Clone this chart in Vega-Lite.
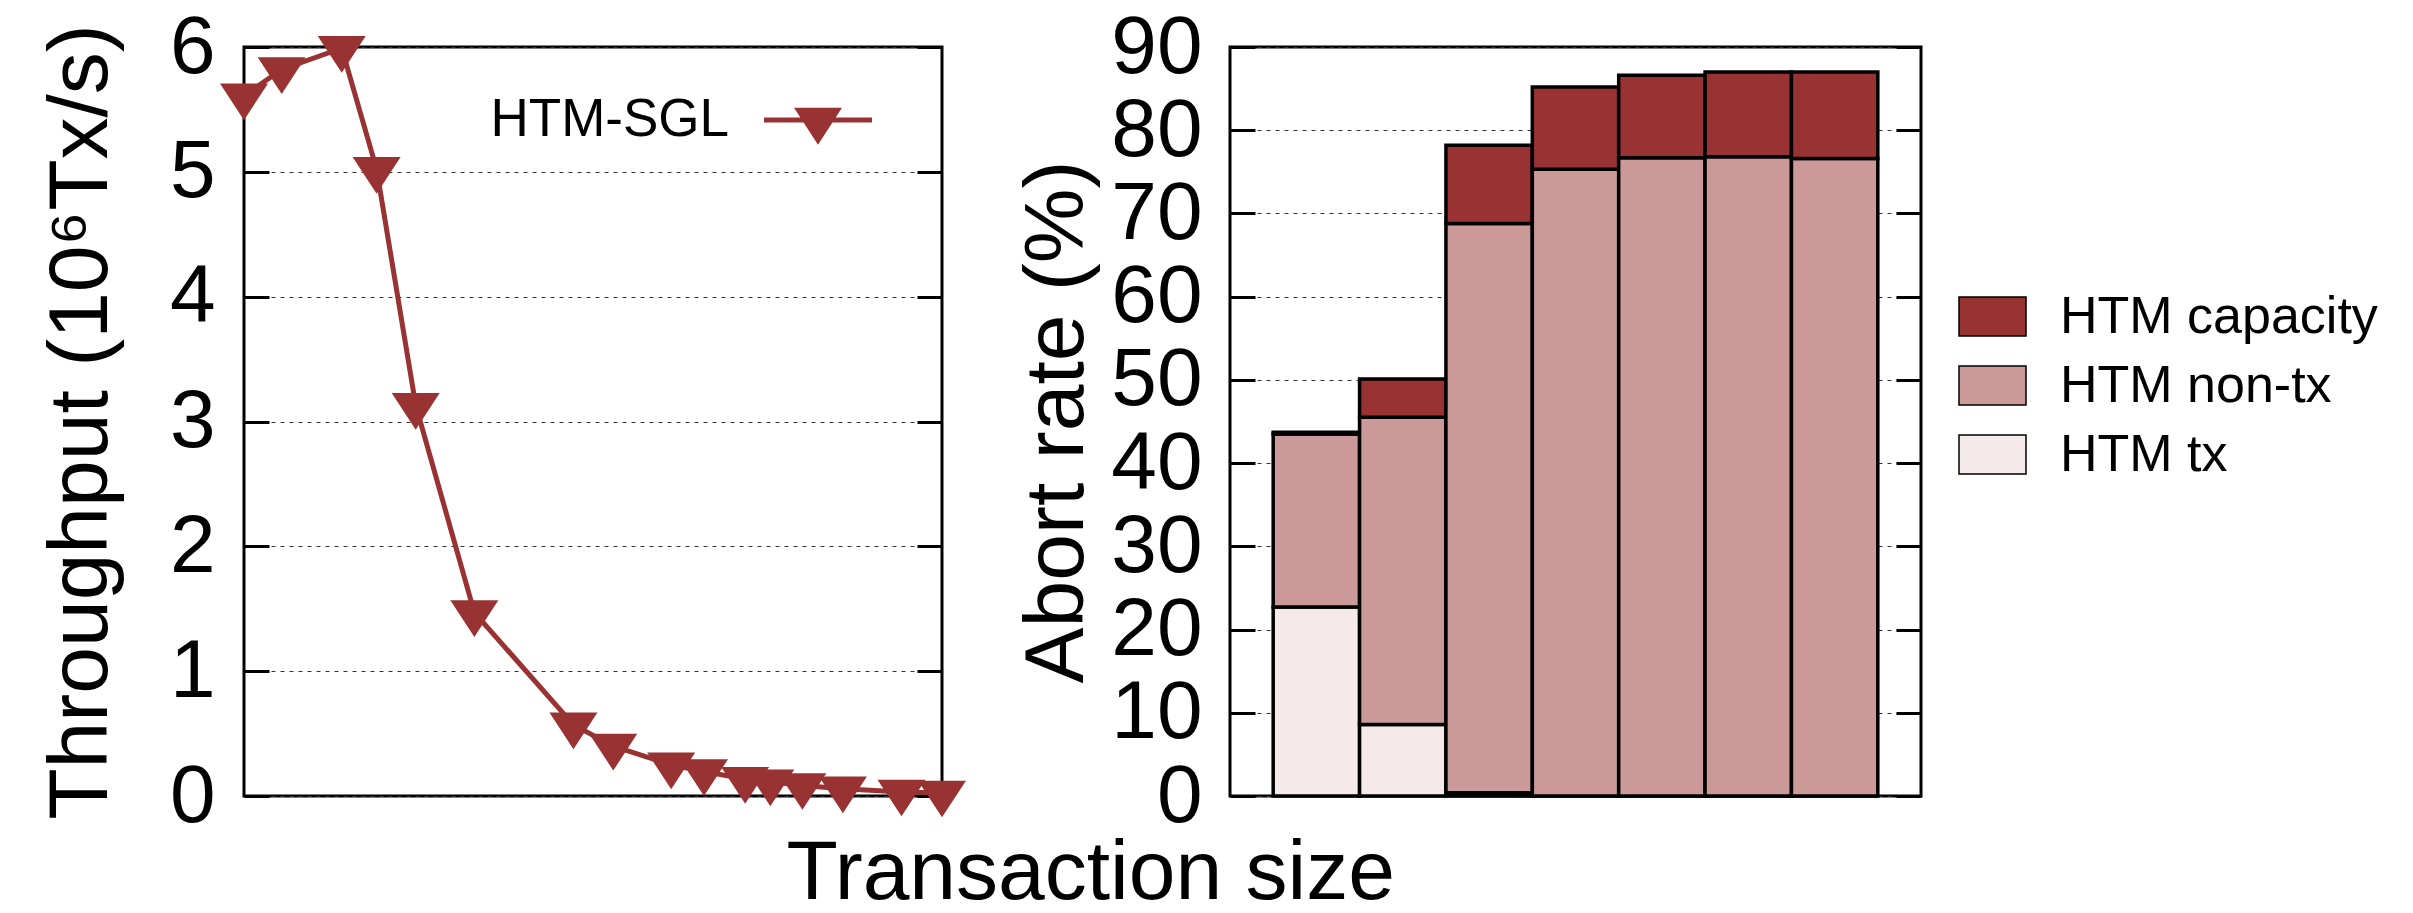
{
  "$schema": "https://vega.github.io/schema/vega-lite/v6.json",
  "background": "white",
  "padding": {"left": 37, "top": 4, "right": 5, "bottom": 5},
  "config": {
    "font": "Liberation Sans",
    "view": {"stroke": "black", "strokeWidth": 3},
    "axis": {"labelFont": "Liberation Sans", "titleFont": "Liberation Sans", "labelColor": "black", "titleColor": "black", "titleFontWeight": "normal"},
    "legend": {"labelFont": "Liberation Sans", "labelColor": "black", "padding": 0, "labelLimit": 500},
    "concat": {"spacing": 46}
  },
  "resolve": {"scale": {"color": "independent"}, "legend": {"color": "independent"}},
  "title": {"text": "Transaction size", "orient": "bottom", "anchor": "middle", "fontSize": 84, "fontWeight": "normal", "font": "Liberation Sans", "color": "black", "dx": -118, "offset": -6},
  "hconcat": [
    {
      "width": 698,
      "height": 749,
      "data": {"values": [
        {"pos": 0, "throughput": 5.61, "series": "HTM-SGL"},
        {"pos": 5.4, "throughput": 5.82, "series": "HTM-SGL"},
        {"pos": 14.0, "throughput": 5.99, "series": "HTM-SGL"},
        {"pos": 19.0, "throughput": 5.02, "series": "HTM-SGL"},
        {"pos": 24.6, "throughput": 3.13, "series": "HTM-SGL"},
        {"pos": 33.0, "throughput": 1.47, "series": "HTM-SGL"},
        {"pos": 47.2, "throughput": 0.57, "series": "HTM-SGL"},
        {"pos": 52.9, "throughput": 0.40, "series": "HTM-SGL"},
        {"pos": 61.2, "throughput": 0.25, "series": "HTM-SGL"},
        {"pos": 65.9, "throughput": 0.196, "series": "HTM-SGL"},
        {"pos": 71.8, "throughput": 0.135, "series": "HTM-SGL"},
        {"pos": 75.4, "throughput": 0.114, "series": "HTM-SGL"},
        {"pos": 80.0, "throughput": 0.085, "series": "HTM-SGL"},
        {"pos": 85.8, "throughput": 0.058, "series": "HTM-SGL"},
        {"pos": 94.2, "throughput": 0.033, "series": "HTM-SGL"},
        {"pos": 100, "throughput": 0.025, "series": "HTM-SGL"}
      ]},
      "layer": [
        {
          "mark": {"type": "line", "strokeWidth": 5},
          "encoding": {
            "x": {"field": "pos", "type": "quantitative", "scale": {"domain": [0, 100], "nice": false, "zero": false}, "axis": null},
            "y": {"field": "throughput", "type": "quantitative", "scale": {"domain": [0, 6], "nice": false},
              "axis": {"orient": "left", "title": "Throughput (10⁶Tx/s)", "values": [0, 1, 2, 3, 4, 5, 6], "labelFontSize": 82, "titleFontSize": 84, "domain": false, "ticks": true, "tickSize": -25, "tickWidth": 3, "tickColor": "black", "labelPadding": 54, "grid": true, "gridDash": [4, 5], "gridColor": "#333333", "gridWidth": 1, "titlePadding": 45}},
            "color": {"field": "series", "type": "nominal", "scale": {"domain": ["HTM-SGL"], "range": ["#993333"]},
              "legend": {"orient": "none", "legendX": 520, "legendY": 19, "title": null, "symbolType": "M -1 -0.046 L 1 -0.046 L 1 0.046 L -1 0.046 Z M -0.444 -0.228 L 0.444 -0.228 L 0 0.457 Z", "symbolSize": 11664, "labelFontSize": 53, "labelAlign": "right", "labelOffset": -143, "labelLimit": 500,
                "encode": {"symbols": {"update": {"fill": {"value": "#993333"}, "stroke": {"value": "transparent"}, "strokeWidth": {"value": 0}, "opacity": {"value": 1}}}}}}
          }
        },
        {
          "mark": {"type": "point", "shape": "M -1 -0.51 L 1 -0.51 L 0 1.02 Z", "filled": true, "size": 2304, "color": "#993333", "opacity": 1},
          "encoding": {
            "x": {"field": "pos", "type": "quantitative", "scale": {"domain": [0, 100], "nice": false, "zero": false}, "axis": null},
            "y": {"field": "throughput", "type": "quantitative", "scale": {"domain": [0, 6], "nice": false},
              "axis": {"orient": "right", "title": null, "labels": false, "values": [0, 1, 2, 3, 4, 5, 6], "domain": false, "tickSize": -25, "tickWidth": 3, "tickColor": "black", "grid": false}}
          }
        }
      ],
      "resolve": {"axis": {"y": "independent"}}
    },
    {
      "width": 691,
      "height": 749,
      "data": {"values": [
        {"bar": 1, "type": "HTM tx", "rank": 1, "value": 22.7},
        {"bar": 1, "type": "HTM non-tx", "rank": 2, "value": 20.8},
        {"bar": 1, "type": "HTM capacity", "rank": 3, "value": 0.2},
        {"bar": 2, "type": "HTM tx", "rank": 1, "value": 8.6},
        {"bar": 2, "type": "HTM non-tx", "rank": 2, "value": 36.9},
        {"bar": 2, "type": "HTM capacity", "rank": 3, "value": 4.6},
        {"bar": 3, "type": "HTM tx", "rank": 1, "value": 0.4},
        {"bar": 3, "type": "HTM non-tx", "rank": 2, "value": 68.4},
        {"bar": 3, "type": "HTM capacity", "rank": 3, "value": 9.4},
        {"bar": 4, "type": "HTM tx", "rank": 1, "value": 0},
        {"bar": 4, "type": "HTM non-tx", "rank": 2, "value": 75.3},
        {"bar": 4, "type": "HTM capacity", "rank": 3, "value": 9.9},
        {"bar": 5, "type": "HTM tx", "rank": 1, "value": 0},
        {"bar": 5, "type": "HTM non-tx", "rank": 2, "value": 76.7},
        {"bar": 5, "type": "HTM capacity", "rank": 3, "value": 9.9},
        {"bar": 6, "type": "HTM tx", "rank": 1, "value": 0},
        {"bar": 6, "type": "HTM non-tx", "rank": 2, "value": 76.8},
        {"bar": 6, "type": "HTM capacity", "rank": 3, "value": 10.2},
        {"bar": 7, "type": "HTM tx", "rank": 1, "value": 0},
        {"bar": 7, "type": "HTM non-tx", "rank": 2, "value": 76.6},
        {"bar": 7, "type": "HTM capacity", "rank": 3, "value": 10.4}
      ]},
      "layer": [
        {
          "mark": {"type": "bar", "stroke": "black", "strokeWidth": 3.5, "opacity": 1},
          "encoding": {
            "x": {"field": "bar", "type": "ordinal", "scale": {"paddingInner": 0, "paddingOuter": 0.5}, "axis": null},
            "y": {"field": "value", "type": "quantitative", "stack": "zero", "scale": {"domain": [0, 90], "nice": false},
              "axis": {"orient": "left", "title": "Abort rate (%)", "values": [0, 10, 20, 30, 40, 50, 60, 70, 80, 90], "labelFontSize": 82, "titleFontSize": 84, "domain": false, "tickSize": -25, "tickWidth": 3, "tickColor": "black", "labelPadding": 53, "grid": true, "gridDash": [4, 5], "gridColor": "#333333", "gridWidth": 1, "titlePadding": 10}},
            "color": {"field": "type", "type": "nominal", "scale": {"domain": ["HTM capacity", "HTM non-tx", "HTM tx"], "range": ["#993333", "#cc9999", "#f4eaea"]},
              "legend": {"orient": "none", "legendX": 728, "legendY": 235, "title": null, "symbolType": "M -1 -0.58 L 1 -0.58 L 1 0.58 L -1 0.58 Z", "symbolSize": 4489, "labelFontSize": 52, "labelOffset": 33, "rowPadding": 8, "labelLimit": 500,
                "encode": {"symbols": {"update": {"stroke": {"value": "black"}, "strokeWidth": {"value": 3}, "opacity": {"value": 1}}}}}},
            "order": {"field": "rank", "type": "quantitative"}
          }
        },
        {
          "mark": {"type": "bar", "opacity": 0},
          "encoding": {
            "x": {"field": "bar", "type": "ordinal", "scale": {"paddingInner": 0, "paddingOuter": 0.5}, "axis": null},
            "y": {"field": "value", "type": "quantitative", "stack": "zero", "scale": {"domain": [0, 90], "nice": false},
              "axis": {"orient": "right", "title": null, "labels": false, "values": [0, 10, 20, 30, 40, 50, 60, 70, 80, 90], "domain": false, "tickSize": -25, "tickWidth": 3, "tickColor": "black", "grid": false}}
          }
        }
      ],
      "resolve": {"axis": {"y": "independent"}}
    }
  ]
}
